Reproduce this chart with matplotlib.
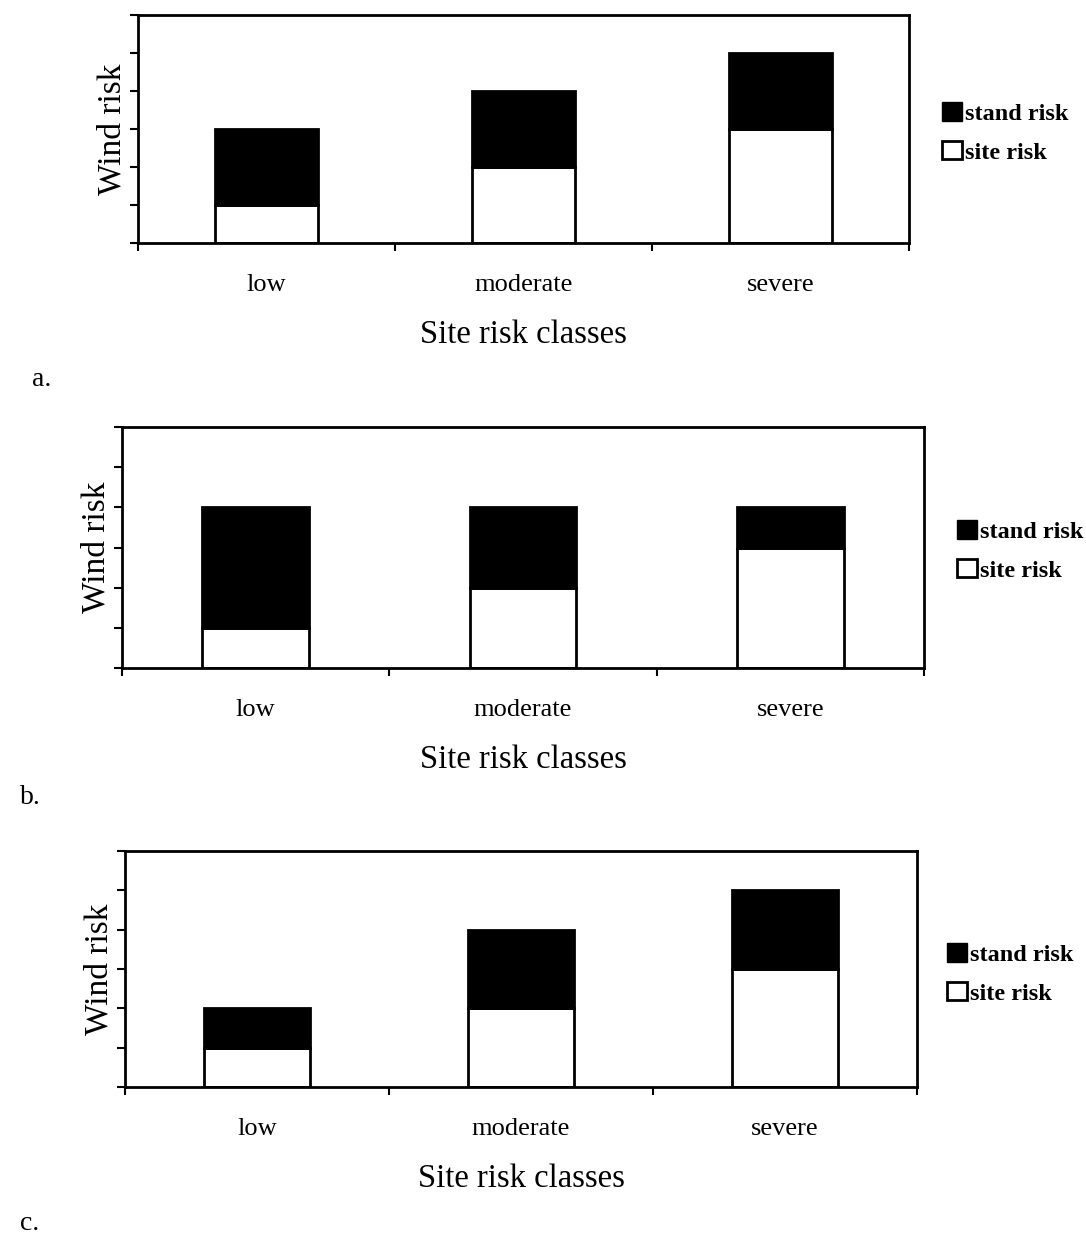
import matplotlib.pyplot as plt
from matplotlib.patches import Patch

plt.rcParams['font.family'] = ['Liberation Serif', 'DejaVu Serif']

categories = ['low', 'moderate', 'severe']
# values in tick units (axis has no numbers)
site_a = [1, 2, 3]
stand_a = [2, 2, 2]
site_b = [1, 2, 3]
stand_b = [3, 2, 1]
site_c = [1, 2, 3]
stand_c = [1, 2, 2]
panel_labels = ['a.', 'b.', 'c.']

W, H = 1086, 1235
fig = plt.figure(figsize=(W / 100, H / 100), dpi=100)

# pixel boxes: left, right, top, bottom
boxes = [(138, 909, 15, 243), (122, 924, 427, 668), (125, 917, 851, 1087)]
legend_pos = [(930, 133), (945, 551), (935, 974)]
label_pos = [(42, 380), (30, 797), (30, 1223)]
data = [(site_a, stand_a), (site_b, stand_b), (site_c, stand_c)]

for k in range(3):
    l, r, t, b = boxes[k]
    ax = fig.add_axes([l / W, 1 - b / H, (r - l) / W, (b - t) / H])
    site, stand = data[k]
    x = range(len(categories))
    ax.bar(x, site, width=0.4, color='white', edgecolor='black', linewidth=2)
    ax.bar(x, stand, bottom=site, width=0.4, color='black', edgecolor='black', linewidth=2)
    ax.set_xlim(-0.5, 2.5)
    ax.set_ylim(0, 6)
    ax.set_yticks(range(7))
    ax.set_yticklabels([])
    ax.set_xticks([-0.5, 0.5, 1.5, 2.5])
    ax.set_xticklabels([])
    ax.set_xticks(list(x), minor=True)
    ax.set_xticklabels(categories, minor=True, fontsize=19)
    ax.tick_params(axis='x', which='minor', length=0, pad=22)
    ax.tick_params(axis='both', which='major', direction='out', length=6, width=1.5)
    for s in ax.spines.values():
        s.set_linewidth(2)
    ax.set_ylabel('Wind risk', fontsize=24, labelpad=-2)
    ax.set_xlabel('Site risk classes', fontsize=23.5, labelpad=17)

    handles = [Patch(facecolor='black', edgecolor='black', label='stand risk'),
               Patch(facecolor='white', edgecolor='black', linewidth=2, label='site risk')]
    lx, ly = legend_pos[k]
    fig.legend(handles=handles, loc='center left', bbox_to_anchor=(lx / W, 1 - ly / H),
               frameon=False, handlelength=0.8, handleheight=0.8,
               handletextpad=0.15, labelspacing=0.65, borderpad=0,
               prop={'size': 17.5, 'weight': 'bold'})

    px, py = label_pos[k]
    fig.text(px / W, 1 - py / H, panel_labels[k], fontsize=20, ha='center', va='center')

fig.savefig('out.png', dpi=100)
